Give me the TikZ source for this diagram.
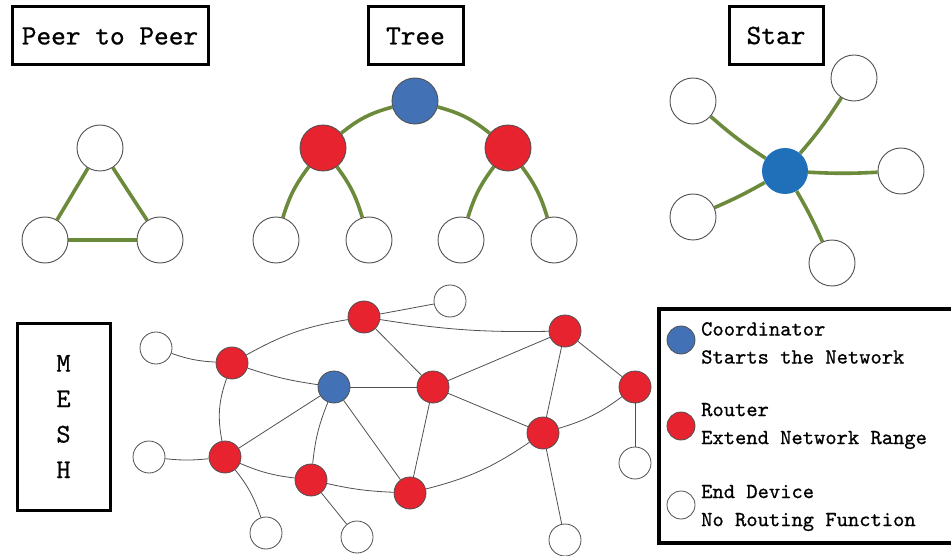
\documentclass[tikz,border=0pt]{standalone}
\usepackage{fontspec}
\usetikzlibrary{backgrounds}
% slightly heavier monospace for all labels
\newfontfamily\labelfont{lmmono10-regular.otf}[FakeBold=0.7]
\definecolor{zred}{HTML}{E6232F}
\definecolor{zblue}{HTML}{4272B5}
\definecolor{starblue}{HTML}{1F70B8}
\definecolor{linkgreen}{HTML}{6B8A3B}
\definecolor{rim}{HTML}{505050}
\tikzset{
  titlebox/.style={draw=black, line width=3pt, minimum height=58pt, inner sep=0pt,
    font=\labelfont\fontsize{28}{30}\selectfont},
  bignode/.style={circle, minimum size=46pt, inner sep=0pt, draw=rim, line width=0.9pt},
  enddev/.style={bignode, fill=white},
  router/.style={bignode, fill=zred},
  coord/.style={bignode, fill=zblue},
  hub/.style={circle, minimum size=46pt, inner sep=0pt, fill=starblue},
  greenlink/.style={draw=linkgreen, line width=3.6pt},
  meshnode/.style={circle, minimum size=32pt, inner sep=0pt, draw=rim, line width=0.8pt},
  mend/.style={meshnode, fill=white},
  mrouter/.style={meshnode, fill=zred},
  mcoord/.style={meshnode, fill=zblue},
  meshlink/.style={draw=rim, line width=0.8pt},
  legenddot/.style={circle, minimum size=28pt, inner sep=0pt, draw=rim, line width=0.8pt},
  legendtext/.style={anchor=west, align=left, inner sep=0pt,
    font=\labelfont\fontsize{21.5}{28}\selectfont},
}
\begin{document}
\begin{tikzpicture}[x=1pt, y=-1pt]
\useasboundingbox (0,0) rectangle (951,556);
\clip (0,0) rectangle (951,556);

% ---------- titles ----------
\node[titlebox, minimum width=196pt] (tp2p) at (110,36) {Peer to Peer};
\node[titlebox, minimum width=95pt] (ttree) at (415.5,36) {Tree};
\node[titlebox, minimum width=94pt] (tstar) at (776,35.5) {Star};
\node[draw=black, line width=3pt, minimum width=93pt, minimum height=187pt,
  inner sep=0pt, align=center, font=\labelfont\fontsize{27}{35.5}\selectfont]
  (tmesh) at (63.5,416.5) {M\\E\\S\\H};

% ---------- peer to peer ----------
\node[enddev] (p1) at (100,148) {};
\node[enddev] (p2) at (45,240) {};
\node[enddev] (p3) at (160,240) {};

% ---------- tree ----------
\node[coord] (troot) at (415,101) {};
\node[router] (tl) at (323,148) {};
\node[router] (tr) at (508,148) {};
\node[enddev] (t1) at (276,240) {};
\node[enddev] (t2) at (369,240) {};
\node[enddev] (t3) at (461,240) {};
\node[enddev] (t4) at (554,240) {};

% ---------- star ----------
\node[hub] (sc) at (785,171) {};
\node[enddev] (s1) at (693,101) {};
\node[enddev] (s2) at (854,78) {};
\node[enddev] (s3) at (901,171) {};
\node[enddev] (s4) at (693,217) {};
\node[enddev] (s5) at (832,263) {};

% ---------- mesh ----------
\node[mend] (e1) at (156,348) {};
\node[mrouter] (r1) at (232,363) {};
\node[mrouter] (r2) at (364,317) {};
\node[mend] (e2) at (450,301) {};
\node[mcoord] (mc) at (334,387) {};
\node[mrouter] (r3) at (433,387) {};
\node[mrouter] (r4) at (225,457) {};
\node[mend] (e3) at (149,457) {};
\node[mrouter] (r5) at (311,480) {};
\node[mrouter] (r6) at (410,493) {};
\node[mend] (e4) at (266,533) {};
\node[mend] (e5) at (357,537) {};
\node[mrouter] (r7) at (565,331) {};
\node[mrouter] (r8) at (635,387) {};
\node[mrouter] (r9) at (543,433) {};
\node[mend] (e6) at (635,463) {};
\node[mend] (e7) at (565,540) {};

% ---------- legend (box runs off the right edge) ----------
\coordinate (lgtr) at (970,309);
\coordinate (lgbr) at (970,543);
\draw[line width=4pt] (lgtr) -- (659,309) -- (659,543) -- (lgbr);
\node[legenddot, fill=zblue] (lc) at (681,340) {};
\node[legenddot, fill=zred] (lr) at (681,426) {};
\node[legenddot, fill=white] (le) at (681,505) {};
\node[legendtext] (lct) at (701,343) {Coordinator\\Starts the Network};
\node[legendtext] (lrt) at (701,426) {Router\\Extend Network Range};
\node[legendtext] (lend) at (701,508) {End Device\\No Routing Function};

% ---------- links ----------
\begin{pgfonlayer}{background}
  % peer to peer
  \draw[greenlink] (p1) -- (p2);
  \draw[greenlink] (p1) -- (p3);
  \draw[greenlink] (p2) -- (p3);
  % tree
  \draw[greenlink] (tl) to[bend left=12] (troot);
  \draw[greenlink] (troot) to[bend left=12] (tr);
  \draw[greenlink] (tl) to[bend right=10] (t1);
  \draw[greenlink] (tl) to[bend left=10] (t2);
  \draw[greenlink] (tr) to[bend right=10] (t3);
  \draw[greenlink] (tr) to[bend left=10] (t4);
  % star
  \draw[greenlink] (sc) to[bend left=4] (s1);
  \draw[greenlink] (sc) to[bend right=4] (s2);
  \draw[greenlink] (sc) to[bend right=3] (s3);
  \draw[greenlink] (sc) to[bend left=3] (s4);
  \draw[greenlink] (sc) to[bend left=3] (s5);
  % mesh
  \draw[meshlink] (e1) to[bend right=8] (r1);
  \draw[meshlink] (r1) to[bend left=10] (r2);
  \draw[meshlink] (r1) to[bend right=5] (mc);
  \draw[meshlink] (r1) to[bend right=15] (r4);
  \draw[meshlink] (r2) -- (e2);
  \draw[meshlink] (r2) to[bend right=5] (r7);
  \draw[meshlink] (r2) -- (r3);
  \draw[meshlink] (mc) -- (r3);
  \draw[meshlink] (mc) -- (r4);
  \draw[meshlink] (mc) to[bend right=8] (r5);
  \draw[meshlink] (mc) -- (r6);
  \draw[meshlink] (r3) -- (r7);
  \draw[meshlink] (r3) -- (r9);
  \draw[meshlink] (r3) -- (r6);
  \draw[meshlink] (e3) to[bend right=6] (r4);
  \draw[meshlink] (r4) to[bend right=8] (r5);
  \draw[meshlink] (r4) to[bend left=10] (e4);
  \draw[meshlink] (r5) to[bend right=5] (r6);
  \draw[meshlink] (r5) -- (e5);
  \draw[meshlink] (r6) to[bend right=10] (r9);
  \draw[meshlink] (r7) -- (r9);
  \draw[meshlink] (r7) -- (r8);
  \draw[meshlink] (r9) to[bend right=10] (r8);
  \draw[meshlink] (r8) -- (e6);
  \draw[meshlink] (r9) -- (e7);
\end{pgfonlayer}
\end{tikzpicture}
\end{document}
